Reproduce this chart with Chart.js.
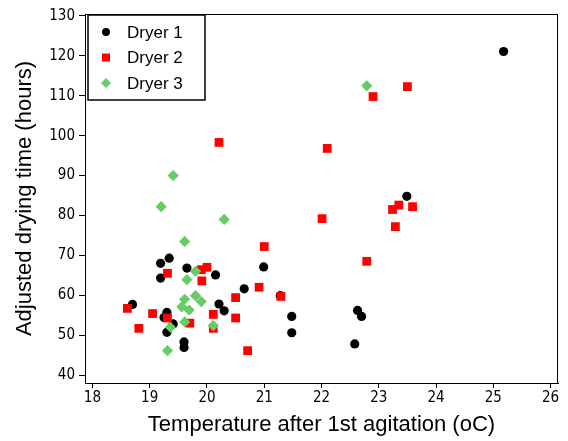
<!DOCTYPE html>
<html>
<head>
<meta charset="utf-8">
<script src="https://cdn.jsdelivr.net/npm/chart.js@4/dist/chart.umd.min.js"></script>
<style>
  body { margin: 0; background: #fff; }
  #wrap { width: 568px; height: 441px; }
</style>
</head>
<body>
<div id="wrap"><canvas id="dryerChart" width="568" height="441"></canvas></div>
<script>
const seriesNames = ["Dryer 1", "Dryer 2", "Dryer 3"];

// Dryer 1 (black circles)
const dryer1Temp = [18.70, 19.19, 19.34, 19.19, 19.65, 20.15, 20.99, 20.65, 21.28, 19.30, 19.25, 19.41,
  19.30, 20.21, 20.30, 19.60, 19.60, 23.49, 21.48, 21.48, 22.63, 22.70, 22.58, 25.18];
const dryer1Time = [57.7, 68.0, 69.3, 64.3, 66.8, 65.1, 67.1, 61.6, 59.9, 55.7, 54.4, 52.8,
  50.7, 57.8, 56.1, 48.3, 46.9, 84.8, 54.7, 50.6, 56.2, 54.7, 47.8, 121.1];

// Dryer 2 (red squares)
const dryer2Temp = [21.00, 19.31, 19.90, 20.00, 19.91, 20.91, 21.29, 20.50, 18.61, 19.05, 19.31, 20.11,
  20.50, 19.70, 20.11, 18.81, 20.71, 20.21, 22.10, 22.90, 23.50, 22.01, 23.24, 23.35, 23.59, 23.29, 22.79];
const dryer2Time = [72.2, 65.5, 66.4, 67.0, 63.6, 62.0, 59.7, 59.4, 56.7, 55.4, 54.3, 55.2,
  54.3, 53.0, 51.7, 51.7, 46.1, 98.3, 96.8, 109.8, 112.3, 79.2, 81.5, 82.6, 82.2, 77.2, 68.5];

// Dryer 3 (green diamonds)
const dryer3Temp = [19.41, 19.20, 20.30, 19.61, 19.80, 19.65, 19.61, 19.80, 19.90, 19.56, 19.69, 19.61,
  19.36, 20.11, 19.31, 22.79];
const dryer3Time = [90.0, 82.2, 79.0, 73.5, 66.0, 63.9, 59.0, 59.9, 58.4, 57.1, 56.3, 53.3,
  52.0, 52.4, 46.1, 112.5];

const xTicks = [18, 19, 20, 21, 22, 23, 24, 25, 26];
const yTicks = [40, 50, 60, 70, 80, 90, 100, 110, 120, 130];

const colors = ["#000000", "#ff0000", "#66cc66"];
const shapes = ["circle", "rect", "rectRot"];

function toPoints(xs, ys) {
  return xs.map((x, i) => ({ x: x, y: ys[i] }));
}

// box around the plot area
const framePlugin = {
  id: "frame",
  afterDatasetsDraw(chart) {
    const a = chart.chartArea;
    const ctx = chart.ctx;
    ctx.save();
    ctx.strokeStyle = "#000";
    ctx.lineWidth = 1;
    ctx.strokeRect(a.left + 0.5, a.top + 0.5, a.right - a.left - 1, a.bottom - a.top);
    ctx.restore();
  }
};

// legend in the upper left corner, with a border
const legendBoxPlugin = {
  id: "legendBox",
  afterDraw(chart) {
    const a = chart.chartArea;
    const ctx = chart.ctx;
    const bx = a.left + 3, by = a.top + 1;
    ctx.save();
    ctx.fillStyle = "#fff";
    ctx.fillRect(bx, by, 117, 85);
    ctx.strokeStyle = "#000";
    ctx.lineWidth = 1.5;
    ctx.strokeRect(bx, by, 117, 85);
    ctx.font = "17px 'Liberation Sans', Arial, sans-serif";
    ctx.textBaseline = "middle";
    chart.data.datasets.forEach((ds, i) => {
      const y = by + 17 + i * 25.5;
      const x = bx + 18;
      ctx.fillStyle = ds.backgroundColor;
      ctx.beginPath();
      if (ds.pointStyle === "circle") {
        ctx.arc(x, y, 4, 0, Math.PI * 2);
      } else if (ds.pointStyle === "rect") {
        ctx.rect(x - 4, y - 4, 8, 8);
      } else {
        ctx.moveTo(x - 5, y);
        ctx.lineTo(x, y - 5);
        ctx.lineTo(x + 5, y);
        ctx.lineTo(x, y + 5);
        ctx.closePath();
      }
      ctx.fill();
      ctx.fillStyle = "#000";
      ctx.fillText(ds.label, bx + 39, y + 1);
    });
    ctx.restore();
  }
};

const tickFont = { family: "'DejaVu Sans Condensed', 'DejaVu Sans', sans-serif", size: 15 };
const titleFont = { family: "'Liberation Sans', Arial, sans-serif", size: 22 };

new Chart(document.getElementById("dryerChart"), {
  type: "scatter",
  data: {
    datasets: [
      { label: seriesNames[0], data: toPoints(dryer1Temp, dryer1Time), order: 2 },
      { label: seriesNames[1], data: toPoints(dryer2Temp, dryer2Time), order: 1 },
      { label: seriesNames[2], data: toPoints(dryer3Temp, dryer3Time), order: 0 }
    ].map((ds, i) => Object.assign(ds, {
      backgroundColor: colors[i],
      borderColor: colors[i],
      borderWidth: 0,
      pointStyle: shapes[i],
      pointRadius: [4.6, 6.2, 5.6][i],
      pointHoverRadius: [4.6, 6.2, 5.6][i]
    }))
  },
  options: {
    responsive: false,
    animation: false,
    events: [],
    layout: { padding: { left: 0, right: 10, top: 14, bottom: 0 } },
    plugins: {
      legend: { display: false },
      tooltip: { enabled: false }
    },
    scales: {
      x: {
        type: "linear",
        min: 17.87,
        max: 26.13,
        afterBuildTicks: s => { s.ticks = xTicks.map(v => ({ value: v })); },
        afterFit: s => { s.height = 58; },
        grid: { drawOnChartArea: false, drawTicks: true, tickLength: 5, color: "#000" },
        border: { display: true, color: "#000", width: 1 },
        ticks: { font: tickFont, color: "#000", padding: 1, maxRotation: 0 },
        title: {
          display: true,
          text: "Temperature after 1st agitation (oC)",
          font: titleFont,
          color: "#000",
          padding: { top: 3, bottom: 3 }
        }
      },
      y: {
        type: "linear",
        min: 38,
        max: 130.5,
        afterBuildTicks: s => { s.ticks = yTicks.map(v => ({ value: v })); },
        afterFit: s => { s.width = 85; },
        grid: { drawOnChartArea: false, drawTicks: true, tickLength: 6, color: "#000" },
        border: { display: true, color: "#000", width: 1 },
        ticks: { font: tickFont, color: "#000", padding: 4 },
        title: {
          display: true,
          text: "Adjusted drying time (hours)",
          font: titleFont,
          color: "#000",
          padding: { top: 12, bottom: 12 }
        }
      }
    }
  },
  plugins: [framePlugin, legendBoxPlugin]
});
</script>
</body>
</html>
